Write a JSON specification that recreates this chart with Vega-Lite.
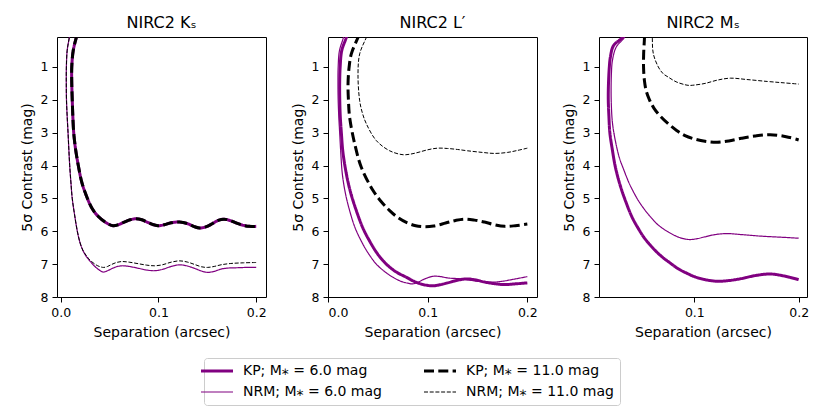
{
"$schema": "https://vega.github.io/schema/vega-lite/v6.json",
"padding": {"left": 19, "top": 14, "right": 5, "bottom": 5},
"spacing": 62,
"bounds": "flush",
"datasets": {"d": [
{"p":"K","s":"KP6","i":0,"x":0.021,"c":-0.4},{"p":"K","s":"KP6","i":1,"x":0.016,"c":0.1},{"p":"K","s":"KP6","i":2,"x":0.0128,"c":0.5},{"p":"K","s":"KP6","i":3,"x":0.0113,"c":1.0},{"p":"K","s":"KP6","i":4,"x":0.0113,"c":1.5},{"p":"K","s":"KP6","i":5,"x":0.0118,"c":2.0},{"p":"K","s":"KP6","i":6,"x":0.0124,"c":2.5},{"p":"K","s":"KP6","i":7,"x":0.0133,"c":3.0},{"p":"K","s":"KP6","i":8,"x":0.0152,"c":3.5},{"p":"K","s":"KP6","i":9,"x":0.018,"c":4.0},{"p":"K","s":"KP6","i":10,"x":0.0215,"c":4.5},{"p":"K","s":"KP6","i":11,"x":0.026,"c":4.9},{"p":"K","s":"KP6","i":12,"x":0.032,"c":5.3},{"p":"K","s":"KP6","i":13,"x":0.0385,"c":5.55},{"p":"K","s":"KP6","i":14,"x":0.047,"c":5.75},{"p":"K","s":"KP6","i":15,"x":0.0535,"c":5.83},{"p":"K","s":"KP6","i":16,"x":0.059,"c":5.8},{"p":"K","s":"KP6","i":17,"x":0.065,"c":5.72},{"p":"K","s":"KP6","i":18,"x":0.071,"c":5.65},{"p":"K","s":"KP6","i":19,"x":0.077,"c":5.62},{"p":"K","s":"KP6","i":20,"x":0.083,"c":5.65},{"p":"K","s":"KP6","i":21,"x":0.089,"c":5.73},{"p":"K","s":"KP6","i":22,"x":0.095,"c":5.8},{"p":"K","s":"KP6","i":23,"x":0.1,"c":5.83},{"p":"K","s":"KP6","i":24,"x":0.106,"c":5.8},{"p":"K","s":"KP6","i":25,"x":0.113,"c":5.74},{"p":"K","s":"KP6","i":26,"x":0.1217,"c":5.72},{"p":"K","s":"KP6","i":27,"x":0.13,"c":5.77},{"p":"K","s":"KP6","i":28,"x":0.136,"c":5.85},{"p":"K","s":"KP6","i":29,"x":0.142,"c":5.9},{"p":"K","s":"KP6","i":30,"x":0.149,"c":5.86},{"p":"K","s":"KP6","i":31,"x":0.155,"c":5.77},{"p":"K","s":"KP6","i":32,"x":0.161,"c":5.67},{"p":"K","s":"KP6","i":33,"x":0.167,"c":5.63},{"p":"K","s":"KP6","i":34,"x":0.173,"c":5.67},{"p":"K","s":"KP6","i":35,"x":0.18,"c":5.75},{"p":"K","s":"KP6","i":36,"x":0.187,"c":5.82},{"p":"K","s":"KP6","i":37,"x":0.193,"c":5.85},{"p":"K","s":"KP6","i":38,"x":0.2,"c":5.85},
{"p":"K","s":"NRM6","i":0,"x":0.0115,"c":-0.4},{"p":"K","s":"NRM6","i":1,"x":0.0088,"c":0.1},{"p":"K","s":"NRM6","i":2,"x":0.0066,"c":0.5},{"p":"K","s":"NRM6","i":3,"x":0.0058,"c":1.0},{"p":"K","s":"NRM6","i":4,"x":0.0057,"c":1.5},{"p":"K","s":"NRM6","i":5,"x":0.0059,"c":2.0},{"p":"K","s":"NRM6","i":6,"x":0.0066,"c":2.5},{"p":"K","s":"NRM6","i":7,"x":0.0075,"c":3.0},{"p":"K","s":"NRM6","i":8,"x":0.0083,"c":3.5},{"p":"K","s":"NRM6","i":9,"x":0.0092,"c":4.0},{"p":"K","s":"NRM6","i":10,"x":0.0104,"c":4.5},{"p":"K","s":"NRM6","i":11,"x":0.0118,"c":5.0},{"p":"K","s":"NRM6","i":12,"x":0.0142,"c":5.5},{"p":"K","s":"NRM6","i":13,"x":0.017,"c":6.0},{"p":"K","s":"NRM6","i":14,"x":0.0198,"c":6.35},{"p":"K","s":"NRM6","i":15,"x":0.023,"c":6.6},{"p":"K","s":"NRM6","i":16,"x":0.0265,"c":6.78},{"p":"K","s":"NRM6","i":17,"x":0.0297,"c":6.9},{"p":"K","s":"NRM6","i":18,"x":0.036,"c":7.1},{"p":"K","s":"NRM6","i":19,"x":0.0405,"c":7.2},{"p":"K","s":"NRM6","i":20,"x":0.0435,"c":7.24},{"p":"K","s":"NRM6","i":21,"x":0.048,"c":7.2},{"p":"K","s":"NRM6","i":22,"x":0.052,"c":7.14},{"p":"K","s":"NRM6","i":23,"x":0.057,"c":7.08},{"p":"K","s":"NRM6","i":24,"x":0.0627,"c":7.05},{"p":"K","s":"NRM6","i":25,"x":0.07,"c":7.07},{"p":"K","s":"NRM6","i":26,"x":0.08,"c":7.13},{"p":"K","s":"NRM6","i":27,"x":0.088,"c":7.18},{"p":"K","s":"NRM6","i":28,"x":0.096,"c":7.2},{"p":"K","s":"NRM6","i":29,"x":0.104,"c":7.16},{"p":"K","s":"NRM6","i":30,"x":0.113,"c":7.07},{"p":"K","s":"NRM6","i":31,"x":0.1217,"c":7.02},{"p":"K","s":"NRM6","i":32,"x":0.13,"c":7.06},{"p":"K","s":"NRM6","i":33,"x":0.137,"c":7.13},{"p":"K","s":"NRM6","i":34,"x":0.144,"c":7.21},{"p":"K","s":"NRM6","i":35,"x":0.15,"c":7.25},{"p":"K","s":"NRM6","i":36,"x":0.157,"c":7.22},{"p":"K","s":"NRM6","i":37,"x":0.164,"c":7.15},{"p":"K","s":"NRM6","i":38,"x":0.171,"c":7.12},{"p":"K","s":"NRM6","i":39,"x":0.18,"c":7.11},{"p":"K","s":"NRM6","i":40,"x":0.19,"c":7.1},{"p":"K","s":"NRM6","i":41,"x":0.2,"c":7.1},
{"p":"K","s":"KP11","i":0,"x":0.021,"c":-0.4},{"p":"K","s":"KP11","i":1,"x":0.016,"c":0.1},{"p":"K","s":"KP11","i":2,"x":0.0128,"c":0.5},{"p":"K","s":"KP11","i":3,"x":0.0113,"c":1.0},{"p":"K","s":"KP11","i":4,"x":0.0113,"c":1.5},{"p":"K","s":"KP11","i":5,"x":0.0118,"c":2.0},{"p":"K","s":"KP11","i":6,"x":0.0124,"c":2.5},{"p":"K","s":"KP11","i":7,"x":0.0133,"c":3.0},{"p":"K","s":"KP11","i":8,"x":0.0152,"c":3.5},{"p":"K","s":"KP11","i":9,"x":0.018,"c":4.0},{"p":"K","s":"KP11","i":10,"x":0.0215,"c":4.5},{"p":"K","s":"KP11","i":11,"x":0.026,"c":4.9},{"p":"K","s":"KP11","i":12,"x":0.032,"c":5.3},{"p":"K","s":"KP11","i":13,"x":0.0385,"c":5.55},{"p":"K","s":"KP11","i":14,"x":0.047,"c":5.75},{"p":"K","s":"KP11","i":15,"x":0.0535,"c":5.83},{"p":"K","s":"KP11","i":16,"x":0.059,"c":5.8},{"p":"K","s":"KP11","i":17,"x":0.065,"c":5.72},{"p":"K","s":"KP11","i":18,"x":0.071,"c":5.65},{"p":"K","s":"KP11","i":19,"x":0.077,"c":5.62},{"p":"K","s":"KP11","i":20,"x":0.083,"c":5.65},{"p":"K","s":"KP11","i":21,"x":0.089,"c":5.73},{"p":"K","s":"KP11","i":22,"x":0.095,"c":5.8},{"p":"K","s":"KP11","i":23,"x":0.1,"c":5.83},{"p":"K","s":"KP11","i":24,"x":0.106,"c":5.8},{"p":"K","s":"KP11","i":25,"x":0.113,"c":5.74},{"p":"K","s":"KP11","i":26,"x":0.1217,"c":5.72},{"p":"K","s":"KP11","i":27,"x":0.13,"c":5.77},{"p":"K","s":"KP11","i":28,"x":0.136,"c":5.85},{"p":"K","s":"KP11","i":29,"x":0.142,"c":5.9},{"p":"K","s":"KP11","i":30,"x":0.149,"c":5.86},{"p":"K","s":"KP11","i":31,"x":0.155,"c":5.77},{"p":"K","s":"KP11","i":32,"x":0.161,"c":5.67},{"p":"K","s":"KP11","i":33,"x":0.167,"c":5.63},{"p":"K","s":"KP11","i":34,"x":0.173,"c":5.67},{"p":"K","s":"KP11","i":35,"x":0.18,"c":5.75},{"p":"K","s":"KP11","i":36,"x":0.187,"c":5.82},{"p":"K","s":"KP11","i":37,"x":0.193,"c":5.85},{"p":"K","s":"KP11","i":38,"x":0.2,"c":5.85},
{"p":"K","s":"NRM11","i":0,"x":0.0115,"c":-0.4},{"p":"K","s":"NRM11","i":1,"x":0.0088,"c":0.1},{"p":"K","s":"NRM11","i":2,"x":0.0066,"c":0.5},{"p":"K","s":"NRM11","i":3,"x":0.0058,"c":1.0},{"p":"K","s":"NRM11","i":4,"x":0.0057,"c":1.5},{"p":"K","s":"NRM11","i":5,"x":0.0059,"c":2.0},{"p":"K","s":"NRM11","i":6,"x":0.0066,"c":2.5},{"p":"K","s":"NRM11","i":7,"x":0.0075,"c":3.0},{"p":"K","s":"NRM11","i":8,"x":0.0083,"c":3.5},{"p":"K","s":"NRM11","i":9,"x":0.0092,"c":4.0},{"p":"K","s":"NRM11","i":10,"x":0.0104,"c":4.5},{"p":"K","s":"NRM11","i":11,"x":0.0118,"c":5.0},{"p":"K","s":"NRM11","i":12,"x":0.0142,"c":5.5},{"p":"K","s":"NRM11","i":13,"x":0.017,"c":6.0},{"p":"K","s":"NRM11","i":14,"x":0.0198,"c":6.35},{"p":"K","s":"NRM11","i":15,"x":0.023,"c":6.6},{"p":"K","s":"NRM11","i":16,"x":0.0265,"c":6.75},{"p":"K","s":"NRM11","i":17,"x":0.0297,"c":6.87},{"p":"K","s":"NRM11","i":18,"x":0.036,"c":7.02},{"p":"K","s":"NRM11","i":19,"x":0.0405,"c":7.08},{"p":"K","s":"NRM11","i":20,"x":0.044,"c":7.1},{"p":"K","s":"NRM11","i":21,"x":0.048,"c":7.07},{"p":"K","s":"NRM11","i":22,"x":0.052,"c":7.01},{"p":"K","s":"NRM11","i":23,"x":0.057,"c":6.95},{"p":"K","s":"NRM11","i":24,"x":0.0627,"c":6.92},{"p":"K","s":"NRM11","i":25,"x":0.07,"c":6.94},{"p":"K","s":"NRM11","i":26,"x":0.08,"c":6.99},{"p":"K","s":"NRM11","i":27,"x":0.088,"c":7.03},{"p":"K","s":"NRM11","i":28,"x":0.096,"c":7.05},{"p":"K","s":"NRM11","i":29,"x":0.104,"c":7.02},{"p":"K","s":"NRM11","i":30,"x":0.113,"c":6.94},{"p":"K","s":"NRM11","i":31,"x":0.1217,"c":6.9},{"p":"K","s":"NRM11","i":32,"x":0.13,"c":6.94},{"p":"K","s":"NRM11","i":33,"x":0.137,"c":7.01},{"p":"K","s":"NRM11","i":34,"x":0.144,"c":7.08},{"p":"K","s":"NRM11","i":35,"x":0.15,"c":7.1},{"p":"K","s":"NRM11","i":36,"x":0.157,"c":7.07},{"p":"K","s":"NRM11","i":37,"x":0.164,"c":7.02},{"p":"K","s":"NRM11","i":38,"x":0.174,"c":6.98},{"p":"K","s":"NRM11","i":39,"x":0.187,"c":6.96},{"p":"K","s":"NRM11","i":40,"x":0.2,"c":6.95},
{"p":"L","s":"KP6","i":0,"x":0.023,"c":-0.4},{"p":"L","s":"KP6","i":1,"x":0.0184,"c":0.1},{"p":"L","s":"KP6","i":2,"x":0.0138,"c":0.5},{"p":"L","s":"KP6","i":3,"x":0.0122,"c":1.0},{"p":"L","s":"KP6","i":4,"x":0.0117,"c":1.5},{"p":"L","s":"KP6","i":5,"x":0.0118,"c":2.0},{"p":"L","s":"KP6","i":6,"x":0.0123,"c":2.5},{"p":"L","s":"KP6","i":7,"x":0.0134,"c":3.0},{"p":"L","s":"KP6","i":8,"x":0.015,"c":3.6},{"p":"L","s":"KP6","i":9,"x":0.0184,"c":4.25},{"p":"L","s":"KP6","i":10,"x":0.0225,"c":4.8},{"p":"L","s":"KP6","i":11,"x":0.0284,"c":5.37},{"p":"L","s":"KP6","i":12,"x":0.035,"c":5.9},{"p":"L","s":"KP6","i":13,"x":0.0418,"c":6.3},{"p":"L","s":"KP6","i":14,"x":0.05,"c":6.7},{"p":"L","s":"KP6","i":15,"x":0.0585,"c":7.0},{"p":"L","s":"KP6","i":16,"x":0.068,"c":7.23},{"p":"L","s":"KP6","i":17,"x":0.0786,"c":7.4},{"p":"L","s":"KP6","i":18,"x":0.086,"c":7.52},{"p":"L","s":"KP6","i":19,"x":0.093,"c":7.6},{"p":"L","s":"KP6","i":20,"x":0.1037,"c":7.66},{"p":"L","s":"KP6","i":21,"x":0.112,"c":7.63},{"p":"L","s":"KP6","i":22,"x":0.12,"c":7.57},{"p":"L","s":"KP6","i":23,"x":0.13,"c":7.49},{"p":"L","s":"KP6","i":24,"x":0.1388,"c":7.45},{"p":"L","s":"KP6","i":25,"x":0.148,"c":7.48},{"p":"L","s":"KP6","i":26,"x":0.158,"c":7.55},{"p":"L","s":"KP6","i":27,"x":0.1756,"c":7.62},{"p":"L","s":"KP6","i":28,"x":0.188,"c":7.6},{"p":"L","s":"KP6","i":29,"x":0.2,"c":7.57},
{"p":"L","s":"NRM6","i":0,"x":0.019,"c":-0.4},{"p":"L","s":"NRM6","i":1,"x":0.0155,"c":0.1},{"p":"L","s":"NRM6","i":2,"x":0.0115,"c":0.5},{"p":"L","s":"NRM6","i":3,"x":0.0102,"c":1.0},{"p":"L","s":"NRM6","i":4,"x":0.01,"c":1.5},{"p":"L","s":"NRM6","i":5,"x":0.0102,"c":2.0},{"p":"L","s":"NRM6","i":6,"x":0.0108,"c":2.5},{"p":"L","s":"NRM6","i":7,"x":0.0117,"c":3.0},{"p":"L","s":"NRM6","i":8,"x":0.0128,"c":3.6},{"p":"L","s":"NRM6","i":9,"x":0.0144,"c":4.26},{"p":"L","s":"NRM6","i":10,"x":0.0175,"c":4.85},{"p":"L","s":"NRM6","i":11,"x":0.0217,"c":5.37},{"p":"L","s":"NRM6","i":12,"x":0.027,"c":5.88},{"p":"L","s":"NRM6","i":13,"x":0.0334,"c":6.3},{"p":"L","s":"NRM6","i":14,"x":0.04,"c":6.65},{"p":"L","s":"NRM6","i":15,"x":0.0485,"c":7.0},{"p":"L","s":"NRM6","i":16,"x":0.057,"c":7.23},{"p":"L","s":"NRM6","i":17,"x":0.0652,"c":7.4},{"p":"L","s":"NRM6","i":18,"x":0.073,"c":7.52},{"p":"L","s":"NRM6","i":19,"x":0.08,"c":7.58},{"p":"L","s":"NRM6","i":20,"x":0.085,"c":7.6},{"p":"L","s":"NRM6","i":21,"x":0.0903,"c":7.55},{"p":"L","s":"NRM6","i":22,"x":0.097,"c":7.45},{"p":"L","s":"NRM6","i":23,"x":0.1054,"c":7.37},{"p":"L","s":"NRM6","i":24,"x":0.113,"c":7.38},{"p":"L","s":"NRM6","i":25,"x":0.12,"c":7.42},{"p":"L","s":"NRM6","i":26,"x":0.134,"c":7.45},{"p":"L","s":"NRM6","i":27,"x":0.15,"c":7.52},{"p":"L","s":"NRM6","i":28,"x":0.164,"c":7.55},{"p":"L","s":"NRM6","i":29,"x":0.175,"c":7.52},{"p":"L","s":"NRM6","i":30,"x":0.188,"c":7.45},{"p":"L","s":"NRM6","i":31,"x":0.2,"c":7.38},
{"p":"L","s":"KP11","i":0,"x":0.037,"c":-0.4},{"p":"L","s":"KP11","i":1,"x":0.0301,"c":0.1},{"p":"L","s":"KP11","i":2,"x":0.0234,"c":0.6},{"p":"L","s":"KP11","i":3,"x":0.0212,"c":1.0},{"p":"L","s":"KP11","i":4,"x":0.0201,"c":1.52},{"p":"L","s":"KP11","i":5,"x":0.0205,"c":2.0},{"p":"L","s":"KP11","i":6,"x":0.0217,"c":2.53},{"p":"L","s":"KP11","i":7,"x":0.0268,"c":3.34},{"p":"L","s":"KP11","i":8,"x":0.0334,"c":4.05},{"p":"L","s":"KP11","i":9,"x":0.0452,"c":4.76},{"p":"L","s":"KP11","i":10,"x":0.0535,"c":5.1},{"p":"L","s":"KP11","i":11,"x":0.0619,"c":5.37},{"p":"L","s":"KP11","i":12,"x":0.07,"c":5.58},{"p":"L","s":"KP11","i":13,"x":0.0786,"c":5.73},{"p":"L","s":"KP11","i":14,"x":0.088,"c":5.83},{"p":"L","s":"KP11","i":15,"x":0.097,"c":5.86},{"p":"L","s":"KP11","i":16,"x":0.106,"c":5.84},{"p":"L","s":"KP11","i":17,"x":0.118,"c":5.75},{"p":"L","s":"KP11","i":18,"x":0.128,"c":5.67},{"p":"L","s":"KP11","i":19,"x":0.137,"c":5.63},{"p":"L","s":"KP11","i":20,"x":0.147,"c":5.66},{"p":"L","s":"KP11","i":21,"x":0.157,"c":5.72},{"p":"L","s":"KP11","i":22,"x":0.167,"c":5.8},{"p":"L","s":"KP11","i":23,"x":0.1773,"c":5.85},{"p":"L","s":"KP11","i":24,"x":0.188,"c":5.83},{"p":"L","s":"KP11","i":25,"x":0.2,"c":5.78},
{"p":"L","s":"NRM11","i":0,"x":0.046,"c":-0.4},{"p":"L","s":"NRM11","i":1,"x":0.0385,"c":0.1},{"p":"L","s":"NRM11","i":2,"x":0.0318,"c":0.6},{"p":"L","s":"NRM11","i":3,"x":0.0301,"c":1.21},{"p":"L","s":"NRM11","i":4,"x":0.0318,"c":2.03},{"p":"L","s":"NRM11","i":5,"x":0.0345,"c":2.4},{"p":"L","s":"NRM11","i":6,"x":0.0385,"c":2.73},{"p":"L","s":"NRM11","i":7,"x":0.0485,"c":3.24},{"p":"L","s":"NRM11","i":8,"x":0.0619,"c":3.55},{"p":"L","s":"NRM11","i":9,"x":0.0753,"c":3.67},{"p":"L","s":"NRM11","i":10,"x":0.083,"c":3.65},{"p":"L","s":"NRM11","i":11,"x":0.0903,"c":3.6},{"p":"L","s":"NRM11","i":12,"x":0.1,"c":3.52},{"p":"L","s":"NRM11","i":13,"x":0.11,"c":3.47},{"p":"L","s":"NRM11","i":14,"x":0.12,"c":3.48},{"p":"L","s":"NRM11","i":15,"x":0.13,"c":3.51},{"p":"L","s":"NRM11","i":16,"x":0.14,"c":3.55},{"p":"L","s":"NRM11","i":17,"x":0.155,"c":3.6},{"p":"L","s":"NRM11","i":18,"x":0.167,"c":3.63},{"p":"L","s":"NRM11","i":19,"x":0.18,"c":3.6},{"p":"L","s":"NRM11","i":20,"x":0.19,"c":3.54},{"p":"L","s":"NRM11","i":21,"x":0.2,"c":3.47},
{"p":"M","s":"KP6","i":0,"x":0.04,"c":-0.4},{"p":"M","s":"KP6","i":1,"x":0.031,"c":0.1},{"p":"M","s":"KP6","i":2,"x":0.0225,"c":0.35},{"p":"M","s":"KP6","i":3,"x":0.0195,"c":0.7},{"p":"M","s":"KP6","i":4,"x":0.0185,"c":1.0},{"p":"M","s":"KP6","i":5,"x":0.0177,"c":1.5},{"p":"M","s":"KP6","i":6,"x":0.0175,"c":2.0},{"p":"M","s":"KP6","i":7,"x":0.0181,"c":2.5},{"p":"M","s":"KP6","i":8,"x":0.019,"c":3.0},{"p":"M","s":"KP6","i":9,"x":0.0213,"c":3.5},{"p":"M","s":"KP6","i":10,"x":0.024,"c":4.0},{"p":"M","s":"KP6","i":11,"x":0.0275,"c":4.45},{"p":"M","s":"KP6","i":12,"x":0.032,"c":4.9},{"p":"M","s":"KP6","i":13,"x":0.04,"c":5.55},{"p":"M","s":"KP6","i":14,"x":0.046,"c":5.9},{"p":"M","s":"KP6","i":15,"x":0.052,"c":6.2},{"p":"M","s":"KP6","i":16,"x":0.06,"c":6.5},{"p":"M","s":"KP6","i":17,"x":0.068,"c":6.75},{"p":"M","s":"KP6","i":18,"x":0.077,"c":6.97},{"p":"M","s":"KP6","i":19,"x":0.085,"c":7.15},{"p":"M","s":"KP6","i":20,"x":0.093,"c":7.28},{"p":"M","s":"KP6","i":21,"x":0.1,"c":7.38},{"p":"M","s":"KP6","i":22,"x":0.11,"c":7.47},{"p":"M","s":"KP6","i":23,"x":0.1218,"c":7.52},{"p":"M","s":"KP6","i":24,"x":0.133,"c":7.5},{"p":"M","s":"KP6","i":25,"x":0.145,"c":7.44},{"p":"M","s":"KP6","i":26,"x":0.158,"c":7.35},{"p":"M","s":"KP6","i":27,"x":0.1727,"c":7.3},{"p":"M","s":"KP6","i":28,"x":0.186,"c":7.36},{"p":"M","s":"KP6","i":29,"x":0.2,"c":7.47},
{"p":"M","s":"NRM6","i":0,"x":0.042,"c":-0.4},{"p":"M","s":"NRM6","i":1,"x":0.033,"c":0.1},{"p":"M","s":"NRM6","i":2,"x":0.025,"c":0.4},{"p":"M","s":"NRM6","i":3,"x":0.0215,"c":0.8},{"p":"M","s":"NRM6","i":4,"x":0.0205,"c":1.2},{"p":"M","s":"NRM6","i":5,"x":0.0203,"c":2.0},{"p":"M","s":"NRM6","i":6,"x":0.0215,"c":2.7},{"p":"M","s":"NRM6","i":7,"x":0.024,"c":3.2},{"p":"M","s":"NRM6","i":8,"x":0.028,"c":3.75},{"p":"M","s":"NRM6","i":9,"x":0.032,"c":4.1},{"p":"M","s":"NRM6","i":10,"x":0.037,"c":4.5},{"p":"M","s":"NRM6","i":11,"x":0.04,"c":4.7},{"p":"M","s":"NRM6","i":12,"x":0.046,"c":5.05},{"p":"M","s":"NRM6","i":13,"x":0.053,"c":5.37},{"p":"M","s":"NRM6","i":14,"x":0.059,"c":5.6},{"p":"M","s":"NRM6","i":15,"x":0.065,"c":5.8},{"p":"M","s":"NRM6","i":16,"x":0.075,"c":6.02},{"p":"M","s":"NRM6","i":17,"x":0.085,"c":6.18},{"p":"M","s":"NRM6","i":18,"x":0.0946,"c":6.25},{"p":"M","s":"NRM6","i":19,"x":0.102,"c":6.23},{"p":"M","s":"NRM6","i":20,"x":0.11,"c":6.17},{"p":"M","s":"NRM6","i":21,"x":0.12,"c":6.1},{"p":"M","s":"NRM6","i":22,"x":0.1313,"c":6.07},{"p":"M","s":"NRM6","i":23,"x":0.145,"c":6.1},{"p":"M","s":"NRM6","i":24,"x":0.165,"c":6.15},{"p":"M","s":"NRM6","i":25,"x":0.183,"c":6.18},{"p":"M","s":"NRM6","i":26,"x":0.2,"c":6.21},
{"p":"M","s":"KP11","i":0,"x":0.0525,"c":-0.4},{"p":"M","s":"KP11","i":1,"x":0.0522,"c":0.1},{"p":"M","s":"KP11","i":2,"x":0.0514,"c":0.6},{"p":"M","s":"KP11","i":3,"x":0.0513,"c":1.0},{"p":"M","s":"KP11","i":4,"x":0.0521,"c":1.4},{"p":"M","s":"KP11","i":5,"x":0.0538,"c":1.72},{"p":"M","s":"KP11","i":6,"x":0.057,"c":2.0},{"p":"M","s":"KP11","i":7,"x":0.0612,"c":2.25},{"p":"M","s":"KP11","i":8,"x":0.0675,"c":2.5},{"p":"M","s":"KP11","i":9,"x":0.0751,"c":2.73},{"p":"M","s":"KP11","i":10,"x":0.083,"c":2.93},{"p":"M","s":"KP11","i":11,"x":0.0911,"c":3.09},{"p":"M","s":"KP11","i":12,"x":0.1,"c":3.19},{"p":"M","s":"KP11","i":13,"x":0.1102,"c":3.26},{"p":"M","s":"KP11","i":14,"x":0.1218,"c":3.29},{"p":"M","s":"KP11","i":15,"x":0.133,"c":3.25},{"p":"M","s":"KP11","i":16,"x":0.145,"c":3.17},{"p":"M","s":"KP11","i":17,"x":0.158,"c":3.1},{"p":"M","s":"KP11","i":18,"x":0.1727,"c":3.06},{"p":"M","s":"KP11","i":19,"x":0.188,"c":3.12},{"p":"M","s":"KP11","i":20,"x":0.2,"c":3.22},
{"p":"M","s":"NRM11","i":0,"x":0.0597,"c":-0.4},{"p":"M","s":"NRM11","i":1,"x":0.0597,"c":0.1},{"p":"M","s":"NRM11","i":2,"x":0.0607,"c":0.6},{"p":"M","s":"NRM11","i":3,"x":0.0655,"c":1.0},{"p":"M","s":"NRM11","i":4,"x":0.07,"c":1.2},{"p":"M","s":"NRM11","i":5,"x":0.0751,"c":1.31},{"p":"M","s":"NRM11","i":6,"x":0.0825,"c":1.45},{"p":"M","s":"NRM11","i":7,"x":0.0911,"c":1.54},{"p":"M","s":"NRM11","i":8,"x":0.095,"c":1.56},{"p":"M","s":"NRM11","i":9,"x":0.1,"c":1.55},{"p":"M","s":"NRM11","i":10,"x":0.1102,"c":1.5},{"p":"M","s":"NRM11","i":11,"x":0.122,"c":1.4},{"p":"M","s":"NRM11","i":12,"x":0.1345,"c":1.34},{"p":"M","s":"NRM11","i":13,"x":0.15,"c":1.38},{"p":"M","s":"NRM11","i":14,"x":0.17,"c":1.44},{"p":"M","s":"NRM11","i":15,"x":0.185,"c":1.48},{"p":"M","s":"NRM11","i":16,"x":0.2,"c":1.52}
]},
"data": {"name": "d"},
"config": {
  "font": "DejaVu Sans",
  "view": {"stroke": "#000000", "strokeWidth": 1},
  "axis": {"domain": false, "grid": false, "tickColor": "#000000", "tickSize": 5, "tickWidth": 1, "labelFont": "DejaVu Sans", "labelFontSize": 12.5, "labelColor": "#000000", "labelPadding": 4, "titleFont": "DejaVu Sans", "titleFontSize": 14, "titleFontWeight": "normal", "titleColor": "#000000"},
  "axisY": {"titlePadding": 6},
  "axisX": {"titlePadding": 7},
  "title": {"font": "DejaVu Sans", "fontSize": 16, "fontWeight": "normal", "color": "#000000", "offset": 6},
  "legend": {"orient": "none", "legendX": 147, "legendY": 321, "columns": 2, "strokeColor": "#cccccc", "fillColor": "#ffffff", "cornerRadius": 3, "padding": 6, "symbolType": "M-3.2,0H3.2", "symbolSize": 100, "labelFont": "DejaVu Sans", "labelFontSize": 14, "labelColor": "#000000", "labelOffset": 19, "rowPadding": 7, "columnPadding": 36, "titlePadding": 0}
},
"resolve": {"scale": {"x": "independent", "y": "independent", "color": "shared", "strokeWidth": "shared", "strokeDash": "shared"}},
"hconcat": [
 {"width": 209, "height": 260, "title": "NIRC2 Kₛ",
  "transform": [{"filter": "datum.p === 'K'"}],
  "mark": {"type": "line", "clip": true, "interpolate": "catmull-rom"},
  "encoding": {
   "x": {"field": "x", "type": "quantitative", "scale": {"domain": [-0.0038, 0.21], "nice": false, "zero": false}, "axis": {"values": [0, 0.1, 0.2], "format": ".1f", "title": "Separation (arcsec)"}},
   "y": {"field": "c", "type": "quantitative", "scale": {"domain": [0.087, 8], "reverse": true, "nice": false, "zero": false}, "axis": {"values": [1,2,3,4,5,6,7,8], "title": "5σ Contrast (mag)"}},
   "color": {"field": "s", "type": "nominal", "scale": {"domain": ["KP6","NRM6","KP11","NRM11"], "range": ["#800080","#800080","#000000","#000000"]}, "legend": {"title": null, "labelExpr": "datum.label == 'KP6' ? 'KP; M⁎ = 6.0 mag' : datum.label == 'KP11' ? 'KP; M⁎ = 11.0 mag' : datum.label == 'NRM6' ? 'NRM; M⁎ = 6.0 mag' : 'NRM; M⁎ = 11.0 mag'"}},
   "strokeWidth": {"field": "s", "type": "nominal", "scale": {"type": "ordinal", "domain": ["KP6","NRM6","KP11","NRM11"], "range": [3, 1.2, 3, 1]}, "legend": {"title": null}},
   "strokeDash": {"field": "s", "type": "nominal", "scale": {"domain": ["KP6","NRM6","KP11","NRM11"], "range": [[1,0],[1,0],[10,4.3],[4,1.7]]}, "legend": {"title": null}},
   "order": {"field": "i", "type": "quantitative"}
  }},
 {"width": 209, "height": 260, "title": "NIRC2 L′",
  "transform": [{"filter": "datum.p === 'L'"}],
  "mark": {"type": "line", "clip": true, "interpolate": "catmull-rom"},
  "encoding": {
   "x": {"field": "x", "type": "quantitative", "scale": {"domain": [0, 0.2097], "nice": false, "zero": false}, "axis": {"values": [0, 0.1, 0.2], "format": ".1f", "title": "Separation (arcsec)"}},
   "y": {"field": "c", "type": "quantitative", "scale": {"domain": [0.087, 8], "reverse": true, "nice": false, "zero": false}, "axis": {"values": [1,2,3,4,5,6,7,8], "title": "5σ Contrast (mag)"}},
   "color": {"field": "s", "type": "nominal", "scale": {"domain": ["KP6","NRM6","KP11","NRM11"], "range": ["#800080","#800080","#000000","#000000"]}, "legend": {"title": null, "labelExpr": "datum.label == 'KP6' ? 'KP; M⁎ = 6.0 mag' : datum.label == 'KP11' ? 'KP; M⁎ = 11.0 mag' : datum.label == 'NRM6' ? 'NRM; M⁎ = 6.0 mag' : 'NRM; M⁎ = 11.0 mag'"}},
   "strokeWidth": {"field": "s", "type": "nominal", "scale": {"type": "ordinal", "domain": ["KP6","NRM6","KP11","NRM11"], "range": [3, 1.2, 3, 1]}, "legend": {"title": null}},
   "strokeDash": {"field": "s", "type": "nominal", "scale": {"domain": ["KP6","NRM6","KP11","NRM11"], "range": [[1,0],[1,0],[10,4.3],[4,1.7]]}, "legend": {"title": null}},
   "order": {"field": "i", "type": "quantitative"}
  }},
 {"width": 208, "height": 260, "title": "NIRC2 Mₛ",
  "transform": [{"filter": "datum.p === 'M'"}],
  "mark": {"type": "line", "clip": true, "interpolate": "catmull-rom"},
  "encoding": {
   "x": {"field": "x", "type": "quantitative", "scale": {"domain": [0.0086, 0.208], "nice": false, "zero": false}, "axis": {"values": [0.1, 0.2], "format": ".1f", "title": "Separation (arcsec)"}},
   "y": {"field": "c", "type": "quantitative", "scale": {"domain": [0.087, 8], "reverse": true, "nice": false, "zero": false}, "axis": {"values": [1,2,3,4,5,6,7,8], "title": "5σ Contrast (mag)"}},
   "color": {"field": "s", "type": "nominal", "scale": {"domain": ["KP6","NRM6","KP11","NRM11"], "range": ["#800080","#800080","#000000","#000000"]}, "legend": {"title": null, "labelExpr": "datum.label == 'KP6' ? 'KP; M⁎ = 6.0 mag' : datum.label == 'KP11' ? 'KP; M⁎ = 11.0 mag' : datum.label == 'NRM6' ? 'NRM; M⁎ = 6.0 mag' : 'NRM; M⁎ = 11.0 mag'"}},
   "strokeWidth": {"field": "s", "type": "nominal", "scale": {"type": "ordinal", "domain": ["KP6","NRM6","KP11","NRM11"], "range": [3, 1.2, 3, 1]}, "legend": {"title": null}},
   "strokeDash": {"field": "s", "type": "nominal", "scale": {"domain": ["KP6","NRM6","KP11","NRM11"], "range": [[1,0],[1,0],[10,4.3],[4,1.7]]}, "legend": {"title": null}},
   "order": {"field": "i", "type": "quantitative"}
  }}
]
}
